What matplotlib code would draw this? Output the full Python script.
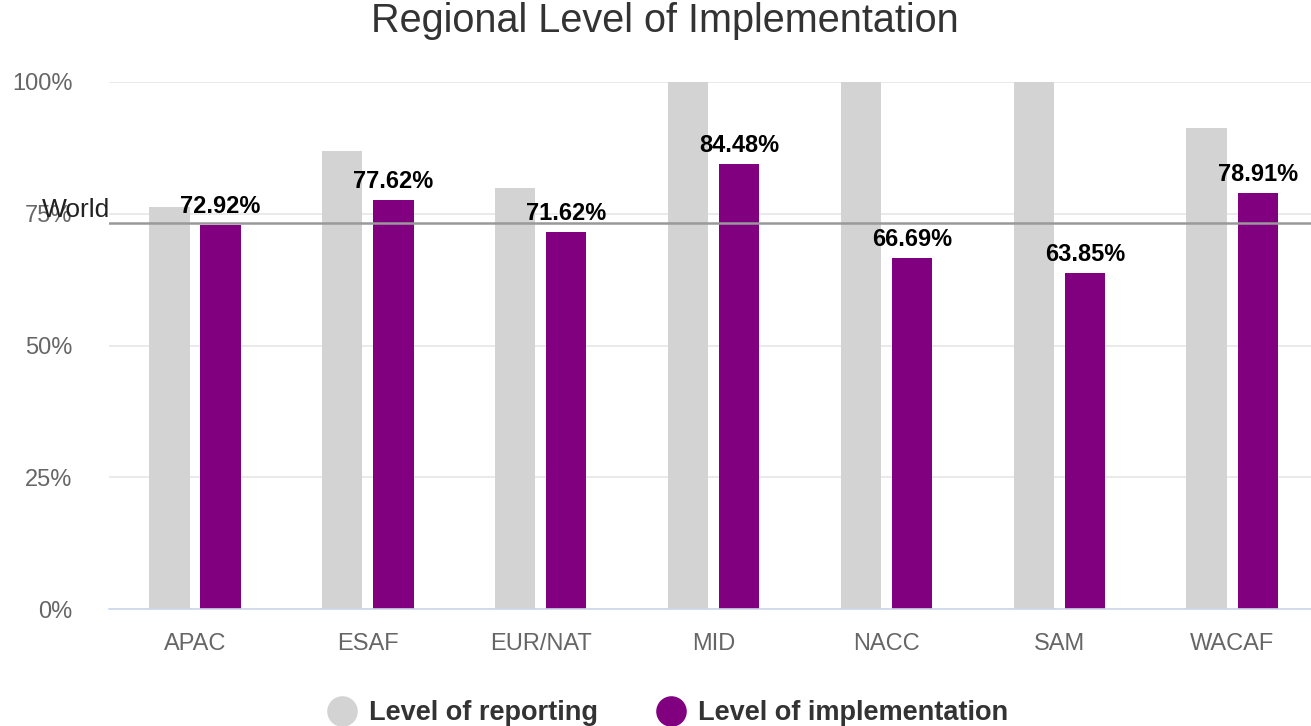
import numpy as np
import matplotlib.pyplot as plt
from matplotlib.lines import Line2D

plt.rcParams['font.family'] = ['Liberation Sans', 'DejaVu Sans']

regions = ["APAC", "ESAF", "EUR/NAT", "MID", "NACC", "SAM", "WACAF"]
reporting = [76.2, 87.0, 79.9, 100.0, 100.0, 100.0, 91.2]
implementation = [72.92, 77.62, 71.62, 84.48, 66.69, 63.85, 78.91]
world = 73.2

grey = "#d3d3d3"
purple = "#800080"

fig = plt.figure(figsize=(13.11, 7.26), dpi=100)
# axes runs a little past the right edge, like the original
ax = fig.add_axes([108.6 / 1311, 1 - 609 / 726, 1210 / 1311, 527 / 726])

x = np.arange(len(regions))
w = 0.233
off = 0.148
ax.bar(x - off, reporting, w, color=grey, zorder=2)
ax.bar(x + off, implementation, w, color=purple, zorder=2)

for xi, v in zip(x, implementation):
    ax.annotate("%.2f%%" % v, (xi + off, v), xytext=(0, 5), textcoords="offset points",
                ha="center", va="bottom", fontsize=17, fontweight="bold", color="black", zorder=4)

ax.axhline(world, color="#999999", lw=1.8, zorder=3)
ax.annotate("World", (0, world), xycoords=("figure fraction", "data"),
            xytext=(42, 1), textcoords="offset pixels", ha="left", va="bottom",
            fontsize=19, color="#222222", annotation_clip=False, zorder=4)

ax.set_xlim(-0.5, len(regions) - 0.5)
ax.set_ylim(0, 100)
ax.set_yticks([0, 25, 50, 75, 100])
ax.set_yticklabels(["0%", "25%", "50%", "75%", "100%"])
ax.yaxis.grid(True, color="#e6e6e6", lw=1.2, zorder=0)
ax.set_axisbelow(True)
ax.set_xticks(x)
ax.set_xticklabels(regions)
ax.tick_params(axis="y", length=0, pad=26, labelsize=17, labelcolor="#666666")
ax.tick_params(axis="x", length=0, pad=17, labelsize=17, labelcolor="#666666")
for s in ["top", "right", "left"]:
    ax.spines[s].set_visible(False)
ax.spines["bottom"].set_color("#ccd6eb")
ax.spines["bottom"].set_linewidth(1.2)

fig.text(665 / 1311, 1 - 21 / 726, "Regional Level of Implementation", ha="center", va="center",
         fontsize=28.5, color="#333333")

handles = [Line2D([], [], marker="o", ls="", markersize=21, color=grey),
           Line2D([], [], marker="o", ls="", markersize=21, color=purple)]
fig.legend(handles, ["Level of reporting", "Level of implementation"], loc="center",
           bbox_to_anchor=(668 / 1311, 1 - 713 / 726), ncol=2, frameon=False,
           prop={"size": 19.5, "weight": "bold"}, labelcolor="#333333",
           handletextpad=0.5, columnspacing=2.2, handlelength=1.0)

fig.savefig("out.png", dpi=100)
